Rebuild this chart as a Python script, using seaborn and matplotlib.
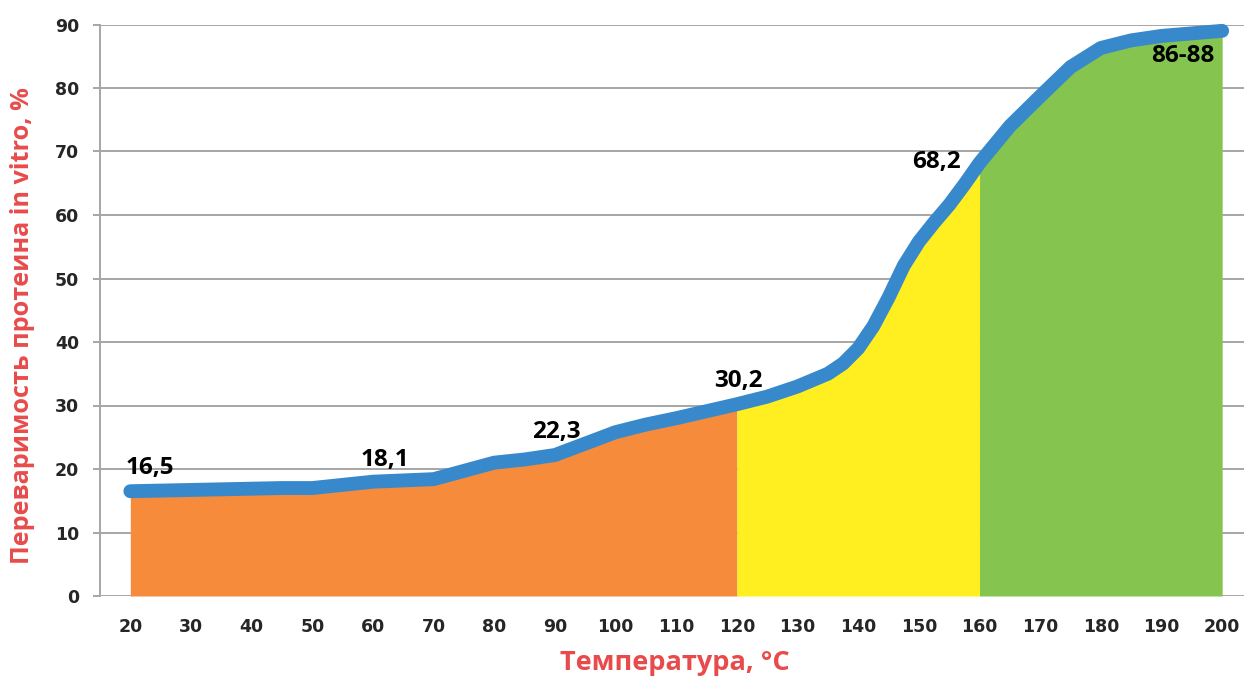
import numpy as np
import pandas as pd
import seaborn as sns
import matplotlib.pyplot as plt

# values
temps = [20, 25, 30, 35, 40, 45, 50, 55, 60, 65, 70, 75, 80, 85, 90, 95, 100,
         105, 110, 115, 120, 125, 130, 135, 137.5, 140, 142.5, 145, 147.5, 150,
         152.5, 155, 157.5, 160, 165, 170, 175, 180, 185, 190, 195, 200]
digest = [16.5, 16.6, 16.7, 16.8, 16.9, 17.0, 17.0, 17.5, 18.0, 18.2, 18.4,
          19.7, 21.0, 21.5, 22.2, 24.0, 25.8, 27.0, 28.0, 29.1, 30.2, 31.4,
          33.0, 35.0, 36.6, 39.0, 42.5, 47.0, 52.0, 55.8, 58.8, 61.6, 64.8,
          68.2, 74.0, 78.7, 83.3, 86.3, 87.5, 88.2, 88.6, 89.0]

zone_edges = [20, 120, 160, 200]
zone_colors = ["#F68B3B", "#FFEF21", "#84C44F"]

label_x = [20, 60, 90, 120, 160, 200]
label_text = ["16,5", "18,1", "22,3", "30,2", "68,2", "86-88"]

x_ticks = list(range(20, 201, 10))
y_ticks = list(range(0, 91, 10))

df = pd.DataFrame({"temp": temps, "value": digest})

sns.set_theme(style="white")
plt.rcParams['font.family'] = ['DejaVu Sans']

fig = plt.figure(figsize=(12.44, 6.79), dpi=100)
ax = fig.add_axes([100 / 1244, (679 - 596) / 679, 1144 / 1244, 571.5 / 679])

x = df["temp"].to_numpy()
y = df["value"].to_numpy()
for (lo, hi), col in zip(zip(zone_edges[:-1], zone_edges[1:]), zone_colors):
    ax.fill_between(x, 0, y, where=(x >= lo) & (x <= hi), color=col,
                    linewidth=0, zorder=2)

sns.lineplot(data=df, x="temp", y="value", ax=ax, color="#3789CB",
             linewidth=10, solid_capstyle="round", solid_joinstyle="round",
             zorder=3, clip_on=False)

# data labels (offsets in pixels from the point)
offsets = [(20, 23), (12, 22), (1, 23), (1, 23), (-43, 1), (-39, -25)]
for xv, txt, off in zip(label_x, label_text, offsets):
    yv = digest[temps.index(xv)]
    ax.annotate(txt, (xv, yv), xytext=off, textcoords="offset pixels",
                ha="center", va="center", fontsize=17.5, fontweight="bold",
                family=["Open Sans", "DejaVu Sans"], color="black", zorder=5)

ax.set_xlim(15, 203.6)
ax.set_ylim(0, 90)
ax.set_xticks(x_ticks)
ax.set_yticks(y_ticks)
ax.set_xticklabels([str(t) for t in x_ticks], fontsize=12.5, fontweight="bold")
ax.set_yticklabels([str(t) for t in y_ticks], fontsize=12.5, fontweight="bold")

ax.grid(axis="y", color="#A6A6A6", linewidth=1.4, zorder=1)
ax.set_axisbelow(True)
for s in ["top", "right", "bottom"]:
    ax.spines[s].set_visible(False)
ax.spines["left"].set_color("#A6A6A6")
ax.spines["left"].set_linewidth(1.4)
ax.tick_params(axis="y", length=5, width=1.4, color="#A6A6A6", pad=10,
               left=True)
ax.tick_params(axis="x", length=0, pad=16)

red = "#E84B4B"
ax.set_xlabel("Температура, °C", fontsize=19.5, fontweight="bold", color=red,
              family=["Open Sans", "DejaVu Sans"])
ax.set_ylabel("Переваримость протеина in vitro, %",
              fontsize=18.2, fontweight="bold", color=red,
              family=["Open Sans", "DejaVu Sans"])
ax.xaxis.set_label_coords((675 - 100) / 1144, -0.117)
ax.yaxis.set_label_coords(-0.068, 0.474)
ax.xaxis.label.set_va("center")
ax.yaxis.label.set_va("center")

plt.savefig("out.png", dpi=100)
